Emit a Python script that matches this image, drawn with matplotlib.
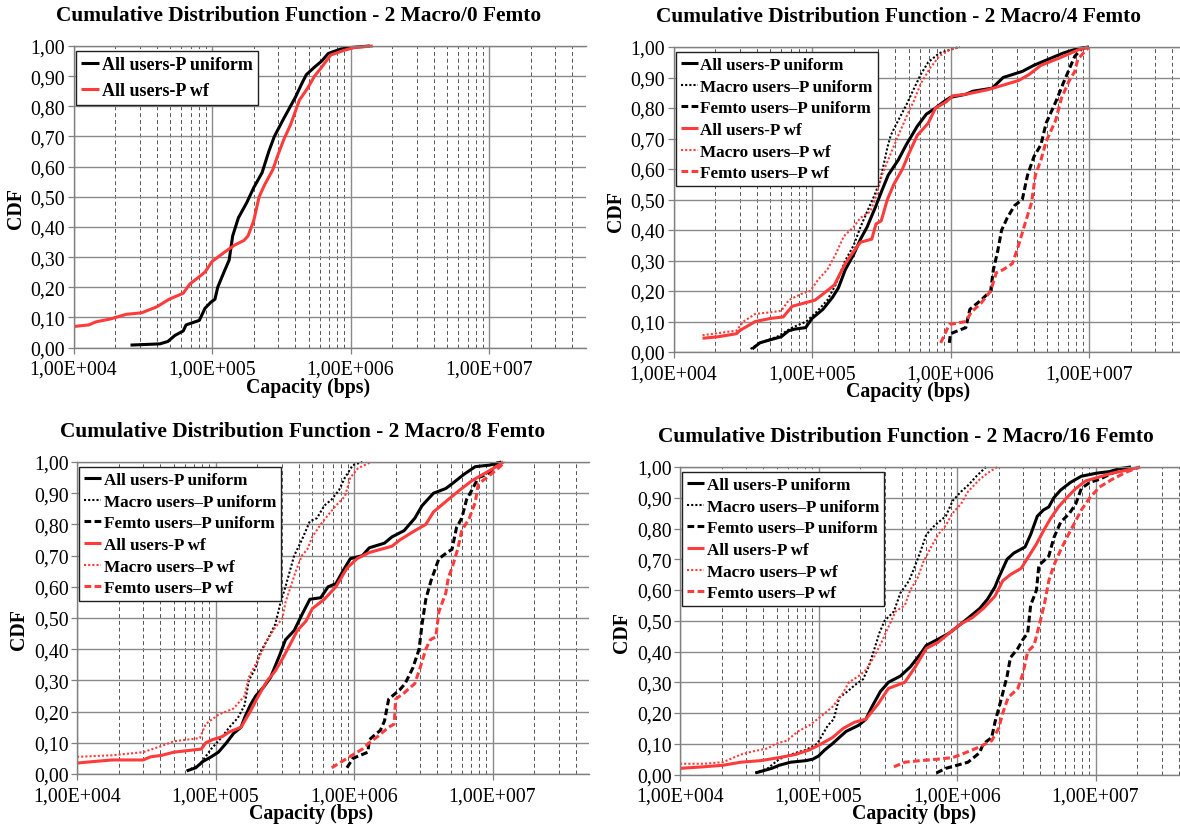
import numpy as np
import matplotlib
matplotlib.use('Agg')
import matplotlib.pyplot as plt
from matplotlib.ticker import FixedLocator, NullFormatter

plt.rcParams['font.family'] = ['Liberation Serif', 'DejaVu Serif']

# ---------------- data (capacity in bps, CDF value) ----------------
titles = ['Cumulative Distribution Function - 2 Macro/0 Femto',
          'Cumulative Distribution Function - 2 Macro/4 Femto',
          'Cumulative Distribution Function - 2 Macro/8 Femto',
          'Cumulative Distribution Function - 2 Macro/16 Femto']
labels = ['All users-P uniform', 'Macro users\u2013P uniform', 'Femto users\u2013P uniform',
          'All users-P wf', 'Macro users\u2013P wf', 'Femto users\u2013P wf']
xtick_vals = [1e4, 1e5, 1e6, 1e7]
xtick_labels = ['1,00E+004', '1,00E+005', '1,00E+006', '1,00E+007']
ytick_vals = [0.0, 0.1, 0.2, 0.3, 0.4, 0.5, 0.6, 0.7, 0.8, 0.9, 1.0]

# 2 Macro / 0 Femto
m0_all_uni_x = [2.58e4, 4.2e4, 4.8e4, 5.4e4, 6.2e4, 6.5e4, 8.1e4, 8.9e4, 9.8e4, 1.05e5,
                1.1e5, 1.22e5, 1.33e5, 1.41e5, 1.55e5, 1.78e5, 2.0e5, 2.3e5, 2.57e5, 2.82e5,
                3.3e5, 4.0e5, 4.5e5, 4.8e5, 5.5e5, 6.2e5, 6.9e5, 8.5e5, 1.0e6, 1.38e6]
m0_all_uni_y = [0.008, 0.012, 0.02, 0.04, 0.055, 0.075, 0.09, 0.13, 0.15, 0.16,
                0.2, 0.25, 0.29, 0.37, 0.43, 0.48, 0.53, 0.58, 0.65, 0.70,
                0.76, 0.83, 0.88, 0.905, 0.93, 0.95, 0.975, 0.99, 0.995, 1.0]
m0_all_wf_x = [1.02e4, 1.29e4, 1.45e4, 1.86e4, 2.4e4, 3.1e4, 4.0e4, 4.9e4, 6.2e4, 6.9e4,
               7.85e4, 8.9e4, 1.0e5, 1.22e5, 1.46e5, 1.7e5, 1.82e5, 2.0e5, 2.19e5, 2.4e5,
               2.75e5, 3.0e5, 3.3e5, 3.7e5, 4.27e5, 4.9e5, 5.5e5, 6.2e5, 7.2e5, 8.9e5,
               1.07e6, 1.45e6]
m0_all_wf_y = [0.07, 0.075, 0.085, 0.095, 0.11, 0.115, 0.135, 0.16, 0.18, 0.21,
               0.23, 0.25, 0.285, 0.315, 0.34, 0.355, 0.37, 0.42, 0.50, 0.54,
               0.59, 0.64, 0.69, 0.74, 0.82, 0.86, 0.90, 0.93, 0.97, 0.985,
               0.995, 1.0]

# 2 Macro / 4 Femto
m4_all_uni_x = [3.7e4, 4.2e4, 5.0e4, 6.0e4, 6.8e4, 7.5e4, 9.0e4, 1.0e5, 1.2e5, 1.41e5,
                1.55e5, 1.74e5, 2.0e5, 2.24e5, 2.5e5, 2.9e5, 3.2e5, 3.55e5, 4.2e5, 4.8e5,
                5.75e5, 6.7e5, 7.8e5, 8.9e5, 1.0e6, 1.29e6, 1.45e6, 2.0e6, 2.4e6, 3.3e6,
                4.0e6, 5.1e6, 6.5e6, 8.3e6, 1.0e7]
m4_all_uni_y = [0.01, 0.03, 0.04, 0.05, 0.07, 0.075, 0.08, 0.11, 0.14, 0.18,
                0.21, 0.27, 0.32, 0.37, 0.41, 0.48, 0.53, 0.58, 0.63, 0.68,
                0.74, 0.78, 0.80, 0.82, 0.835, 0.845, 0.855, 0.865, 0.90, 0.92,
                0.94, 0.96, 0.98, 0.995, 1.0]
m4_mac_uni_x = [3.6e4, 4.2e4, 5.6e4, 7.2e4, 9.1e4, 1.07e5, 1.29e5, 1.48e5, 1.74e5, 2.0e5,
                2.24e5, 2.5e5, 2.8e5, 3.1e5, 3.5e5, 3.7e5, 4.2e5, 4.8e5, 5.4e5, 6.1e5,
                6.9e5, 8.3e5, 1.15e6]
m4_mac_uni_y = [0.01, 0.03, 0.05, 0.08, 0.10, 0.13, 0.17, 0.22, 0.30, 0.35,
                0.41, 0.46, 0.51, 0.56, 0.67, 0.71, 0.76, 0.81, 0.86, 0.91,
                0.95, 0.98, 1.0]
m4_fem_uni_x = [9.8e5, 1.0e6, 1.29e6, 1.38e6, 1.66e6, 1.95e6, 2.04e6, 2.19e6, 2.34e6, 2.57e6,
                2.9e6, 3.3e6, 3.6e6, 4.0e6, 4.5e6, 4.9e6, 5.75e6, 6.5e6, 7.4e6, 7.9e6,
                8.9e6, 1.0e7]
m4_fem_uni_y = [0.03, 0.06, 0.08, 0.14, 0.17, 0.20, 0.27, 0.33, 0.40, 0.44,
                0.48, 0.50, 0.58, 0.64, 0.68, 0.75, 0.82, 0.88, 0.94, 0.97,
                0.995, 1.0]
m4_all_wf_x = [1.62e4, 2.1e4, 2.85e4, 3.0e4, 3.9e4, 5.0e4, 6.2e4, 7.2e4, 8.7e4, 1.05e5,
               1.2e5, 1.45e5, 1.74e5, 2.0e5, 2.24e5, 2.7e5, 2.9e5, 3.16e5, 3.5e5, 3.9e5,
               4.5e5, 5.0e5, 5.75e5, 6.9e5, 7.8e5, 9.3e5, 1.04e6, 1.29e6, 1.86e6, 2.4e6,
               3.1e6, 3.7e6, 4.5e6, 6.2e6, 8.3e6, 9.8e6]
m4_all_wf_y = [0.045, 0.05, 0.06, 0.07, 0.10, 0.11, 0.115, 0.15, 0.16, 0.17,
               0.19, 0.22, 0.29, 0.33, 0.36, 0.37, 0.42, 0.43, 0.50, 0.55,
               0.60, 0.65, 0.71, 0.75, 0.80, 0.82, 0.84, 0.845, 0.86, 0.875,
               0.89, 0.91, 0.94, 0.965, 0.99, 1.0]
m4_mac_wf_x = [1.62e4, 2.85e4, 3.2e4, 3.9e4, 5.0e4, 6.0e4, 6.8e4, 8.3e4, 9.7e4, 1.12e5,
               1.29e5, 1.48e5, 1.7e5, 2.0e5, 2.24e5, 2.63e5, 2.9e5, 3.2e5, 3.7e5, 4.2e5,
               4.9e5, 5.4e5, 6.1e5, 7.1e5, 8.3e5, 9.8e5, 1.17e6]
m4_mac_wf_y = [0.055, 0.07, 0.10, 0.125, 0.13, 0.135, 0.17, 0.19, 0.20, 0.24,
               0.27, 0.32, 0.38, 0.41, 0.44, 0.46, 0.51, 0.58, 0.65, 0.71,
               0.78, 0.82, 0.88, 0.93, 0.97, 0.99, 1.0]
m4_fem_wf_x = [8.5e5, 9.8e5, 1.29e6, 1.41e6, 1.66e6, 1.95e6, 2.14e6, 2.4e6, 2.8e6, 3.1e6,
               3.5e6, 3.85e6, 4.1e6, 4.5e6, 4.9e6, 5.75e6, 6.3e6, 7.2e6, 7.9e6, 8.3e6,
               1.0e7]
m4_fem_wf_y = [0.03, 0.09, 0.10, 0.13, 0.16, 0.20, 0.26, 0.27, 0.29, 0.35,
               0.43, 0.49, 0.58, 0.63, 0.69, 0.76, 0.83, 0.89, 0.92, 0.96,
               1.0]

# 2 Macro / 8 Femto
m8_all_uni_x = [6.2e4, 7.2e4, 8.1e4, 9.3e4, 1.05e5, 1.2e5, 1.35e5, 1.53e5, 1.62e5, 1.78e5,
                1.95e5, 2.24e5, 2.5e5, 2.9e5, 3.2e5, 3.7e5, 4.2e5, 4.8e5, 5.75e5, 6.5e5,
                7.4e5, 8.3e5, 9.4e5, 1.15e6, 1.29e6, 1.66e6, 1.88e6, 2.3e6, 2.75e6, 3.1e6,
                3.75e6, 4.6e6, 5.1e6, 6.2e6, 7.5e6, 9.5e6, 1.16e7]
m8_all_uni_y = [0.01, 0.02, 0.04, 0.055, 0.07, 0.10, 0.13, 0.15, 0.18, 0.22,
                0.25, 0.28, 0.31, 0.38, 0.43, 0.46, 0.51, 0.56, 0.565, 0.60,
                0.61, 0.65, 0.69, 0.70, 0.725, 0.74, 0.76, 0.78, 0.82, 0.86,
                0.90, 0.915, 0.93, 0.96, 0.985, 0.99, 1.0]
m8_mac_uni_x = [6.2e4, 7.7e4, 9.3e4, 1.12e5, 1.26e5, 1.45e5, 1.62e5, 1.74e5, 1.95e5, 2.1e5,
                2.37e5, 2.7e5, 2.95e5, 3.2e5, 3.7e5, 4.2e5, 4.8e5, 5.4e5, 6.1e5, 6.9e5,
                7.8e5, 8.6e5, 9.8e5, 1.15e6]
m8_mac_uni_y = [0.01, 0.03, 0.08, 0.12, 0.15, 0.18, 0.22, 0.30, 0.34, 0.39,
                0.43, 0.48, 0.55, 0.60, 0.70, 0.75, 0.81, 0.82, 0.86, 0.88,
                0.91, 0.95, 0.99, 1.0]
m8_fem_uni_x = [8.9e5, 9.8e5, 1.26e6, 1.29e6, 1.55e6, 1.66e6, 1.78e6, 2.14e6, 2.34e6, 2.66e6,
                2.95e6, 3.1e6, 3.3e6, 3.6e6, 4.1e6, 4.7e6, 5.1e6, 5.5e6, 6.0e6, 6.5e6,
                7.1e6, 7.9e6, 9.1e6, 1.02e7, 1.1e7]
m8_fem_uni_y = [0.02, 0.05, 0.07, 0.11, 0.14, 0.17, 0.24, 0.27, 0.29, 0.34,
                0.40, 0.48, 0.56, 0.62, 0.69, 0.71, 0.72, 0.79, 0.82, 0.88,
                0.91, 0.95, 0.96, 0.98, 1.0]
m8_all_wf_x = [1.0e4, 1.32e4, 1.8e4, 3.0e4, 3.4e4, 4.1e4, 5.0e4, 6.3e4, 7.9e4, 8.5e4,
               9.5e4, 1.12e5, 1.26e5, 1.53e5, 1.78e5, 2.04e5, 2.37e5, 2.7e5, 3.05e5, 3.5e5,
               3.9e5, 4.5e5, 5.0e5, 6.1e5, 7.4e5, 8.9e5, 1.05e6, 1.29e6, 1.88e6, 2.14e6,
               2.75e6, 3.3e6, 3.75e6, 4.8e6, 5.8e6, 7.1e6, 8.5e6, 1.02e7, 1.2e7]
m8_all_wf_y = [0.035, 0.04, 0.045, 0.045, 0.055, 0.06, 0.07, 0.075, 0.08, 0.10,
               0.11, 0.12, 0.135, 0.15, 0.20, 0.25, 0.30, 0.33, 0.37, 0.42,
               0.46, 0.49, 0.53, 0.56, 0.60, 0.66, 0.69, 0.71, 0.73, 0.75,
               0.78, 0.80, 0.84, 0.88, 0.91, 0.94, 0.96, 0.98, 1.0]
m8_mac_wf_x = [1.0e4, 1.8e4, 3.0e4, 4.1e4, 5.0e4, 7.7e4, 8.5e4, 1.05e5, 1.35e5, 1.62e5,
               1.74e5, 2.1e5, 2.37e5, 2.7e5, 3.05e5, 3.2e5, 3.8e5, 4.2e5, 4.6e5, 5.0e5,
               5.75e5, 6.5e5, 7.4e5, 8.6e5, 9.4e5, 1.07e6, 1.33e6]
m8_mac_wf_y = [0.055, 0.06, 0.07, 0.09, 0.105, 0.115, 0.16, 0.19, 0.21, 0.25,
               0.31, 0.38, 0.43, 0.47, 0.50, 0.55, 0.65, 0.70, 0.72, 0.76,
               0.80, 0.83, 0.86, 0.89, 0.95, 0.98, 1.0]
m8_fem_wf_x = [6.9e5, 8.9e5, 1.15e6, 1.29e6, 1.48e6, 1.78e6, 1.95e6, 2.0e6, 2.3e6, 2.75e6,
               3.0e6, 3.3e6, 3.55e6, 3.9e6, 4.1e6, 4.6e6, 4.8e6, 5.1e6, 5.6e6, 6.0e6,
               6.8e6, 7.5e6, 7.9e6, 9.1e6, 1.1e7, 1.23e7]
m8_fem_wf_y = [0.02, 0.05, 0.08, 0.10, 0.12, 0.15, 0.16, 0.24, 0.26, 0.29,
               0.34, 0.40, 0.43, 0.44, 0.52, 0.58, 0.63, 0.66, 0.72, 0.78,
               0.82, 0.87, 0.93, 0.95, 0.98, 1.0]

# 2 Macro / 16 Femto
m16_all_uni_x = [3.5e4, 4.6e4, 5.2e4, 6.3e4, 8.1e4, 9.1e4, 1.0e5, 1.11e5, 1.26e5, 1.41e5,
                 1.58e5, 1.95e5, 2.2e5, 2.43e5, 2.8e5, 3.2e5, 3.9e5, 4.6e5, 5.4e5, 6.0e5,
                 7.3e5, 8.8e5, 1.07e6, 1.29e6, 1.46e6, 1.66e6, 1.88e6, 2.0e6, 2.3e6, 2.57e6,
                 3.1e6, 3.4e6, 3.8e6, 4.2e6, 4.6e6, 5.0e6, 5.6e6, 6.6e6, 7.9e6, 1.02e7,
                 1.26e7, 1.5e7, 1.8e7]
m16_all_uni_y = [0.005, 0.02, 0.03, 0.04, 0.045, 0.05, 0.06, 0.08, 0.10, 0.12,
                 0.14, 0.16, 0.18, 0.22, 0.27, 0.30, 0.32, 0.35, 0.39, 0.42,
                 0.44, 0.46, 0.49, 0.52, 0.54, 0.57, 0.61, 0.64, 0.70, 0.72,
                 0.74, 0.78, 0.84, 0.86, 0.87, 0.90, 0.925, 0.95, 0.97, 0.98,
                 0.985, 0.995, 1.0]
m16_mac_uni_x = [3.5e4, 4.3e4, 5.2e4, 6.8e4, 8.1e4, 9.8e4, 1.07e5, 1.17e5, 1.29e5, 1.41e5,
                 1.62e5, 1.82e5, 2.1e5, 2.3e5, 2.5e5, 2.75e5, 3.0e5, 3.5e5, 3.9e5, 4.5e5,
                 4.9e5, 5.4e5, 6.0e5, 6.9e5, 8.3e5, 9.3e5, 1.07e6, 1.2e6, 1.38e6, 1.62e6]
m16_mac_uni_y = [0.005, 0.02, 0.05, 0.07, 0.08, 0.10, 0.13, 0.16, 0.18, 0.25,
                 0.27, 0.29, 0.31, 0.35, 0.40, 0.46, 0.50, 0.53, 0.59, 0.63,
                 0.67, 0.72, 0.78, 0.81, 0.84, 0.89, 0.92, 0.94, 0.97, 1.0]
m16_fem_uni_x = [7.1e5, 8.3e5, 1.0e6, 1.2e6, 1.45e6, 1.55e6, 1.78e6, 1.88e6, 2.1e6, 2.3e6,
                 2.43e6, 2.75e6, 3.0e6, 3.24e6, 3.4e6, 3.75e6, 3.9e6, 4.6e6, 5.0e6, 5.6e6,
                 6.5e6, 7.2e6, 7.9e6, 9.1e6, 1.07e7, 1.32e7, 1.8e7]
m16_fem_uni_y = [0.005, 0.02, 0.03, 0.04, 0.07, 0.10, 0.12, 0.17, 0.25, 0.32,
                 0.38, 0.41, 0.44, 0.46, 0.55, 0.60, 0.68, 0.71, 0.77, 0.82,
                 0.85, 0.88, 0.93, 0.95, 0.96, 0.98, 1.0]
m16_all_wf_x = [1.0e4, 1.48e4, 2.04e4, 2.75e4, 3.8e4, 5.2e4, 6.8e4, 8.6e4, 1.05e5, 1.26e5,
                1.51e5, 1.82e5, 2.2e5, 2.7e5, 3.2e5, 4.2e5, 5.0e5, 6.0e5, 7.3e5, 8.8e5,
                1.07e6, 1.29e6, 1.55e6, 1.88e6, 2.14e6, 2.43e6, 2.9e6, 3.3e6, 3.75e6, 4.3e6,
                4.7e6, 5.4e6, 6.2e6, 7.2e6, 8.5e6, 1.02e7, 1.32e7, 1.7e7, 2.1e7]
m16_all_wf_y = [0.02, 0.025, 0.03, 0.04, 0.045, 0.055, 0.065, 0.08, 0.10, 0.12,
                0.15, 0.17, 0.18, 0.23, 0.28, 0.30, 0.35, 0.41, 0.43, 0.46,
                0.49, 0.51, 0.54, 0.58, 0.63, 0.65, 0.67, 0.71, 0.75, 0.80,
                0.83, 0.87, 0.90, 0.93, 0.955, 0.965, 0.98, 0.99, 1.0]
m16_mac_wf_x = [1.0e4, 1.48e4, 2.04e4, 2.75e4, 3.35e4, 4.3e4, 4.9e4, 5.9e4, 7.1e4, 8.6e4,
                1.05e5, 1.26e5, 1.48e5, 1.66e5, 1.95e5, 2.2e5, 2.5e5, 2.85e5, 3.2e5, 3.6e5,
                4.2e5, 4.6e5, 5.2e5, 5.7e5, 6.5e5, 7.3e5, 8.3e5, 9.3e5, 1.07e6, 1.2e6,
                1.46e6, 1.66e6, 1.95e6]
m16_mac_wf_y = [0.035, 0.035, 0.04, 0.065, 0.075, 0.085, 0.10, 0.11, 0.14, 0.16,
                0.19, 0.22, 0.26, 0.30, 0.32, 0.34, 0.38, 0.43, 0.48, 0.53,
                0.55, 0.60, 0.64, 0.69, 0.74, 0.78, 0.81, 0.85, 0.88, 0.92,
                0.96, 0.98, 1.0]
m16_fem_wf_x = [3.5e5, 4.2e5, 5.4e5, 7.3e5, 9.3e5, 1.14e6, 1.46e6, 1.78e6, 2.0e6, 2.14e6,
                2.34e6, 2.75e6, 3.0e6, 3.24e6, 3.6e6, 4.0e6, 4.3e6, 4.6e6, 5.0e6, 5.6e6,
                6.2e6, 7.1e6, 7.9e6, 9.1e6, 1.07e7, 1.32e7, 1.7e7, 2.1e7]
m16_fem_wf_y = [0.025, 0.04, 0.045, 0.05, 0.055, 0.07, 0.09, 0.11, 0.15, 0.20,
                0.25, 0.28, 0.33, 0.40, 0.42, 0.50, 0.56, 0.63, 0.68, 0.73,
                0.77, 0.82, 0.86, 0.90, 0.935, 0.96, 0.985, 1.0]

# ---------------- styles ----------------
RED = '#ff3b3b'
styles = [
    dict(color='black', lw=2.2, ls='-'),
    dict(color='black', lw=1.5, ls=(0, (1, 1))),
    dict(color='black', lw=2.2, ls=(0, (2.2, 1.1))),
    dict(color=RED, lw=2.2, ls='-'),
    dict(color=RED, lw=1.5, ls=(0, (1, 1))),
    dict(color=RED, lw=2.2, ls=(0, (2.2, 1.1))),
]

panels = [
    [(m0_all_uni_x, m0_all_uni_y, 0), (m0_all_wf_x, m0_all_wf_y, 3)],
    [(m4_all_uni_x, m4_all_uni_y, 0), (m4_mac_uni_x, m4_mac_uni_y, 1), (m4_fem_uni_x, m4_fem_uni_y, 2),
     (m4_all_wf_x, m4_all_wf_y, 3), (m4_mac_wf_x, m4_mac_wf_y, 4), (m4_fem_wf_x, m4_fem_wf_y, 5)],
    [(m8_all_uni_x, m8_all_uni_y, 0), (m8_mac_uni_x, m8_mac_uni_y, 1), (m8_fem_uni_x, m8_fem_uni_y, 2),
     (m8_all_wf_x, m8_all_wf_y, 3), (m8_mac_wf_x, m8_mac_wf_y, 4), (m8_fem_wf_x, m8_fem_wf_y, 5)],
    [(m16_all_uni_x, m16_all_uni_y, 0), (m16_mac_uni_x, m16_mac_uni_y, 1), (m16_fem_uni_x, m16_fem_uni_y, 2),
     (m16_all_wf_x, m16_all_wf_y, 3), (m16_mac_wf_x, m16_mac_wf_y, 4), (m16_fem_wf_x, m16_fem_wf_y, 5)],
]

# ---------------- layout (pixels) ----------------
W, H = 1180, 829
XMIN, XMAX = 1e4, 5e7
DEC = 138.5
axw = np.log10(XMAX / XMIN) * DEC
# left, top, bottom of each plot area
boxes = [(73.5, 47, 348.5), (673.5, 48, 353), (77, 463, 775), (680, 468, 775.5)]
leg_font = [13, 12.3, 12.3, 12.3]
leg_space = [0.5, 0.33, 0.33, 0.33]

fig = plt.figure(figsize=(W / 100, H / 100), dpi=100)

minor_x = [m * 10 ** e for e in range(4, 8) for m in range(2, 10)]
GRID = '#8a8a8a'

for k, (left, top, bottom) in enumerate(boxes):
    h = bottom - top
    ax = fig.add_axes([left / W, 1 - bottom / H, axw / W, h / H])
    ax.set_xscale('log')
    ax.set_xlim(XMIN, XMAX)
    ax.set_ylim(0, 1)

    for xs, ys, s in panels[k]:
        ax.plot(xs, ys, label=labels[s], clip_on=False, solid_capstyle='butt',
                dash_capstyle='butt', **styles[s])

    ax.xaxis.set_major_locator(FixedLocator(xtick_vals))
    ax.set_xticklabels(xtick_labels)
    ax.xaxis.set_minor_locator(FixedLocator(minor_x))
    ax.xaxis.set_minor_formatter(NullFormatter())
    ax.set_yticks(ytick_vals)
    ax.set_yticklabels([('%.2f' % v).replace('.', ',') for v in ytick_vals])

    ax.tick_params(axis='both', which='major', labelsize=14.3, direction='out',
                   length=4, width=0.9, color='#808080')
    ax.tick_params(axis='x', which='major', pad=5)
    ax.tick_params(axis='y', which='major', pad=2)
    ax.tick_params(axis='x', which='minor', length=0)

    ax.set_axisbelow(True)
    ax.grid(True, which='major', axis='both', color=GRID, lw=1.0, ls='-')
    ax.grid(True, which='minor', axis='x', color='#555555', lw=0.7, ls=(0, (4, 3)))

    for side in ['left', 'bottom', 'top']:
        ax.spines[side].set_color('#808080')
        ax.spines[side].set_linewidth(1.0)
    ax.spines['right'].set_visible(False)

    ax.set_xlabel('Capacity (bps)', fontsize=14.3, fontweight='bold')
    ax.xaxis.set_label_coords(0.457, -29 / h, transform=ax.transAxes)
    ax.set_ylabel('CDF', fontsize=14.3, fontweight='bold')
    ax.yaxis.set_label_coords(-48 / axw, 0.465, transform=ax.transAxes)

    ax.text(0.44, 1 + 31 / h, titles[k], transform=ax.transAxes,
            ha='center', va='center', fontsize=15.4, fontweight='bold')

    leg = ax.legend(loc='upper left', bbox_to_anchor=(0.004, 1 - 5 / h),
                    prop=dict(size=leg_font[k], weight='bold'), frameon=True,
                    fancybox=False, borderpad=0.3, labelspacing=leg_space[k],
                    handlelength=1.0, handletextpad=0.15, borderaxespad=0.0)
    leg.get_frame().set_edgecolor('#202020')
    leg.get_frame().set_linewidth(1.0)
    leg.get_frame().set_alpha(1.0)

fig.savefig('out.png', dpi=100)
